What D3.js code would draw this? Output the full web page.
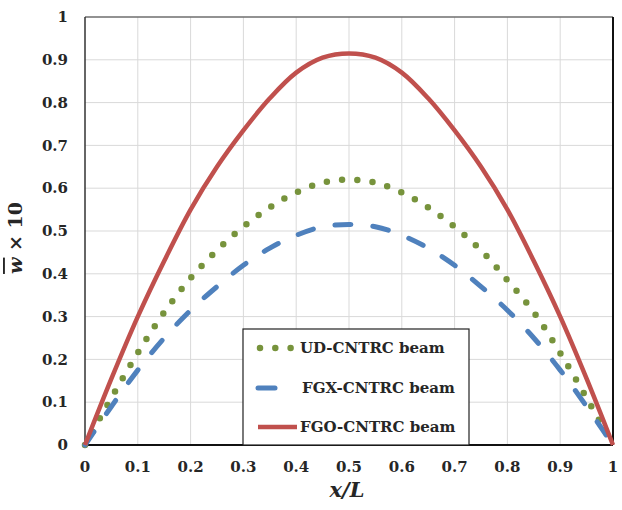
<!DOCTYPE html>
<html lang="en">
<head>
    <meta charset="UTF-8">
    <title>Beam deflection</title>
    <script src="https://cdnjs.cloudflare.com/ajax/libs/d3/7.8.5/d3.min.js"></script>
    <style>
        body { margin: 0; background: #fff; }
        svg text { font-family: "DejaVu Serif", serif; font-weight: bold; fill: #262626; }
        .grid line { stroke: #d9d9d9; stroke-width: 1; }
    </style>
</head>
<body>
    <div id="chart"></div>

    <script>
        // x/L positions
        const xs = [0, 0.05, 0.1, 0.15, 0.2, 0.25, 0.3, 0.35, 0.4, 0.45, 0.5,
                    0.55, 0.6, 0.65, 0.7, 0.75, 0.8, 0.85, 0.9, 0.95, 1];
        // deflection values (w x 10)
        const udValues  = [0, 0.11, 0.215, 0.31, 0.39, 0.455, 0.51, 0.555, 0.59, 0.613, 0.62,
                           0.613, 0.59, 0.555, 0.51, 0.455, 0.385, 0.31, 0.215, 0.11, 0];
        const fgxValues = [0, 0.09, 0.175, 0.25, 0.315, 0.37, 0.42, 0.46, 0.49, 0.51, 0.515,
                           0.51, 0.49, 0.46, 0.42, 0.37, 0.315, 0.25, 0.175, 0.09, 0];
        const fgoValues = [0, 0.155, 0.30, 0.43, 0.55, 0.65, 0.735, 0.81, 0.87, 0.905, 0.915,
                           0.905, 0.87, 0.81, 0.735, 0.65, 0.55, 0.43, 0.30, 0.155, 0];
        const seriesNames = ["UD-CNTRC beam", "FGX-CNTRC beam", "FGO-CNTRC beam"];
        const xTicks = d3.range(0, 11).map(i => i / 10);
        const yTicks = d3.range(0, 11).map(i => i / 10);

        const width = 622, height = 510;
        const margin = { top: 17, right: 9, bottom: 65, left: 85 };

        const svg = d3.select("#chart").append("svg")
            .attr("width", width)
            .attr("height", height);

        const x = d3.scaleLinear().domain([0, 1]).range([margin.left, width - margin.right]);
        const y = d3.scaleLinear().domain([0, 1]).range([height - margin.bottom, margin.top]);

        // grid
        const grid = svg.append("g").attr("class", "grid");
        grid.selectAll("line.v").data(xTicks.slice(1, -1)).enter().append("line")
            .attr("x1", d => x(d)).attr("x2", d => x(d))
            .attr("y1", y(0)).attr("y2", y(1));
        grid.selectAll("line.h").data(yTicks.slice(1, -1)).enter().append("line")
            .attr("x1", x(0)).attr("x2", x(1))
            .attr("y1", d => y(d)).attr("y2", d => y(d));

        // frame
        svg.append("line").attr("x1", x(0)).attr("x2", x(1)).attr("y1", y(1)).attr("y2", y(1))
            .attr("stroke", "#6e6e6e").attr("stroke-width", 1.5);
        svg.append("line").attr("x1", x(1)).attr("x2", x(1)).attr("y1", y(1)).attr("y2", y(0))
            .attr("stroke", "#111").attr("stroke-width", 2);
        svg.append("line").attr("x1", x(0)).attr("x2", x(0)).attr("y1", y(1)).attr("y2", y(0))
            .attr("stroke", "#333").attr("stroke-width", 1.5);

        // tick labels
        svg.selectAll("text.ytick").data(yTicks).enter().append("text")
            .attr("x", 68).attr("y", d => y(d)).attr("dy", "0.35em")
            .attr("text-anchor", "end").attr("font-size", 15)
            .text(d => d3.format("~g")(d));
        svg.selectAll("text.xtick").data(xTicks).enter().append("text")
            .attr("x", d => x(d)).attr("y", 467).attr("dy", "0.35em")
            .attr("text-anchor", "middle").attr("font-size", 15)
            .text(d => d3.format("~g")(d));

        // axis titles
        svg.append("text")
            .attr("transform", "translate(22," + 238 + ") rotate(-90)")
            .attr("text-anchor", "middle").attr("font-size", 19)
            .html('<tspan font-style="italic" text-decoration="overline">w</tspan> × 10');
        svg.append("text")
            .attr("x", 347).attr("y", 497)
            .attr("text-anchor", "middle").attr("font-size", 21).attr("font-style", "italic")
            .text("x/L");

        const line = d3.line().x((d, i) => x(xs[i])).y(d => y(d)).curve(d3.curveCatmullRom);

        const styles = [
            { color: "#77933c", width: 6.5, dash: "0 15.3", cap: "round" },
            { color: "#4f81bd", width: 5, dash: "16 22", cap: "round" },
            { color: "#c0504d", width: 4.5, dash: null, cap: "butt" }
        ];
        const allSeries = [udValues, fgxValues, fgoValues];

        // bottom axis line drawn under the curves
        svg.append("line").attr("x1", x(0)).attr("x2", x(1)).attr("y1", y(0)).attr("y2", y(0))
            .attr("stroke", "#111").attr("stroke-width", 2);

        allSeries.forEach((vals, i) => {
            svg.append("path")
                .datum(vals)
                .attr("d", line)
                .attr("fill", "none")
                .attr("stroke", styles[i].color)
                .attr("stroke-width", styles[i].width)
                .attr("stroke-linecap", styles[i].cap)
                .attr("stroke-dasharray", styles[i].dash);
        });

        // legend
        const lg = svg.append("g");
        lg.append("rect")
            .attr("x", 243).attr("y", 329).attr("width", 226).attr("height", 116)
            .attr("fill", "#fff").attr("stroke", "#222").attr("stroke-width", 1.2);
        const rowY = [348, 388, 427];
        seriesNames.forEach((name, i) => {
            const s = styles[i];
            const x1 = 258, x2 = i === 0 ? 291 : (i === 1 ? 275 : 297);
            lg.append("line")
                .attr("x1", i === 0 ? 260 : x1).attr("x2", x2)
                .attr("y1", rowY[i]).attr("y2", rowY[i])
                .attr("stroke", s.color).attr("stroke-width", s.width)
                .attr("stroke-linecap", s.cap)
                .attr("stroke-dasharray", i === 0 ? "0 15.3" : null);
            lg.append("text")
                .attr("x", i === 1 ? 302 : 300).attr("y", rowY[i]).attr("dy", "0.35em")
                .attr("font-size", 15)
                .text(name);
        });
    </script>
</body>
</html>
